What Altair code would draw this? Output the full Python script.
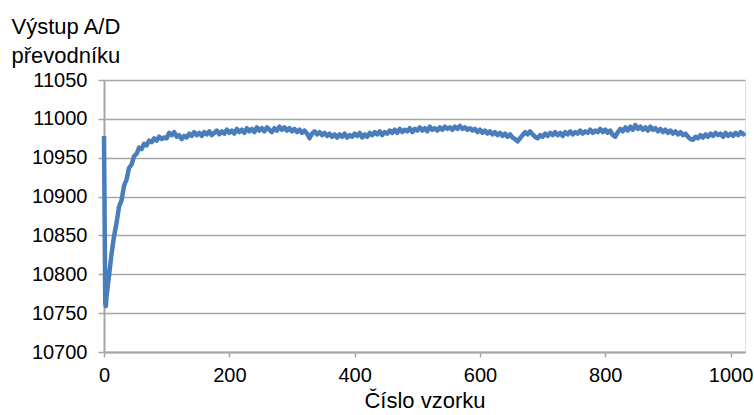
import altair as alt
import pandas as pd

# Sample numbers and A/D converter readings
samples = [0, 1, 2, 3] + list(range(4, 1024, 4)) + [1023]
values = [
    10978, 10872, 10762, 10759,
    10771, 10798, 10826, 10849, 10866, 10887, 10895, 10914, 10922, 10937,
    10941, 10952, 10955, 10963, 10961, 10968, 10966, 10972, 10970, 10975,
    10972, 10977, 10974, 10976, 10975, 10982, 10979, 10983, 10977, 10979,
    10974, 10978, 10976, 10981, 10978, 10983, 10979, 10982, 10978, 10983,
    10980, 10984, 10979, 10982, 10985, 10980, 10984, 10981, 10986, 10982,
    10985, 10981, 10987, 10983, 10986, 10982, 10988, 10984, 10987, 10983,
    10989, 10985, 10988, 10984, 10989, 10986, 10983, 10988, 10985, 10990,
    10986, 10989, 10985, 10988, 10984, 10987, 10983, 10986, 10982, 10985,
    10981, 10975, 10981, 10984, 10980, 10983, 10979, 10982, 10978, 10981,
    10977, 10980, 10976, 10980, 10977, 10981, 10976, 10979, 10977, 10981,
    10978, 10982, 10976, 10980, 10977, 10982, 10979, 10983, 10980, 10984,
    10979, 10983, 10981, 10985, 10982, 10986, 10982, 10987, 10983, 10986,
    10984, 10988, 10983, 10987, 10985, 10989, 10985, 10988, 10984, 10990,
    10986, 10988, 10985, 10989, 10986, 10990, 10987, 10989, 10986, 10990,
    10987, 10991, 10987, 10989, 10986, 10988, 10985, 10987, 10983, 10986,
    10982, 10985, 10981, 10984, 10980, 10983, 10979, 10982, 10978, 10981,
    10977, 10980, 10976, 10974, 10971, 10975, 10979, 10983, 10980, 10984,
    10980, 10977, 10975, 10979, 10977, 10981, 10978, 10982, 10979, 10983,
    10979, 10982, 10978, 10983, 10980, 10984, 10980, 10983, 10981, 10985,
    10981, 10984, 10982, 10986, 10982, 10985, 10983, 10987, 10983, 10986,
    10982, 10985, 10979, 10977, 10983, 10987, 10984, 10989, 10985, 10990,
    10986, 10992, 10987, 10990, 10986, 10989, 10985, 10990, 10986, 10988,
    10984, 10987, 10983, 10986, 10982, 10985, 10981, 10984, 10980, 10983,
    10979, 10981, 10977, 10974, 10973, 10977, 10975, 10979, 10976, 10980,
    10977, 10981, 10978, 10982, 10979, 10981, 10977, 10982, 10978, 10981,
    10978, 10982, 10979, 10983, 10980, 10982,
]

x_ticks = [0, 200, 400, 600, 800, 1000]
y_ticks = [10700, 10750, 10800, 10850, 10900, 10950, 11000, 11050]

df = pd.DataFrame({"vzorek": samples, "hodnota": values})

FONT = "Liberation Sans"
GRID = "#a6a6a6"

chart = (
    alt.Chart(df)
    .mark_line(color="#4a7ebb", strokeWidth=4.5, strokeJoin="round")
    .encode(
        x=alt.X(
            "vzorek:Q",
            scale=alt.Scale(domain=[0, 1023], nice=False, zero=False),
            axis=alt.Axis(
                title="Číslo vzorku",
                values=x_ticks,
                format="d",
                grid=False,
                domainColor=GRID,
                domainWidth=2,
                tickColor=GRID,
                tickWidth=1.5,
                tickSize=5,
                labelFontSize=20,
                labelFont=FONT,
                labelColor="#000000",
                labelPadding=8,
                labelFlush=False,
                titleFont=FONT,
                titleFontSize=22,
                titleFontWeight="normal",
                titleColor="#000000",
                titlePadding=5,
            ),
        ),
        y=alt.Y(
            "hodnota:Q",
            scale=alt.Scale(domain=[10700, 11050], nice=False, zero=False),
            axis=alt.Axis(
                title=["Výstup A/D", "převodníku"],
                values=y_ticks,
                format="d",
                grid=True,
                gridColor=GRID,
                gridWidth=1.5,
                domainColor=GRID,
                domainWidth=2,
                tickColor=GRID,
                tickWidth=1.5,
                tickSize=6,
                labelFontSize=20,
                labelFont=FONT,
                labelColor="#000000",
                labelPadding=11,
                titleFont=FONT,
                titleFontSize=22,
                titleFontWeight="normal",
                titleColor="#000000",
                titleAngle=0,
                titleAlign="left",
                titleBaseline="alphabetic",
                titleX=-93,
                titleY=-47,
                titleLineHeight=29,
            ),
        ),
    )
    .properties(
        width=641,
        height=272,
        autosize=alt.AutoSizeParams(type="none"),
        padding={"left": 104, "top": 80, "right": 9, "bottom": 63},
    )
    .configure_view(stroke=None)
    .configure(background="#ffffff")
)

chart.save("out.html", embed_options={"renderer": "svg", "actions": False})
